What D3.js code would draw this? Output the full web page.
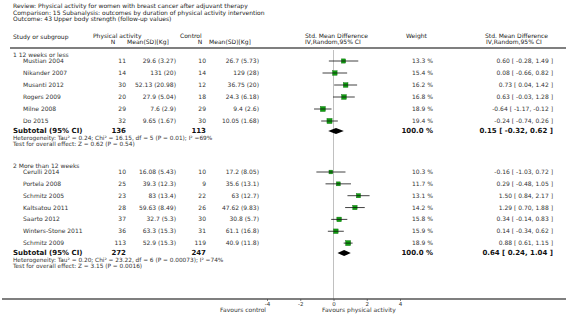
<!DOCTYPE html>
<html lang="en">
<head>
  <meta charset="UTF-8">
  <title>Forest plot</title>
  <style type="text/css">
    body { margin: 0px; background: #fff; }
    text { font-family: "DejaVu Sans", sans-serif; fill: #333; }
    .title { font-size: 6px; fill: #222; }
    .hdr { font-size: 6px; fill: #222; }
    .row { font-size: 6px; }
    .het { font-size: 5.8px; }
    .sub { font-size: 7px; font-weight: bold; fill: #111; }
    .tick text { font-size: 5.5px; fill: #333; }
  </style>
  <script src="https://d3js.org/d3.v7.min.js"></script>
</head>
<body>
  <svg width="566" height="329"></svg>
  <script>
    const titleLines = [
      'Review:  Physical activity for women with breast cancer after adjuvant therapy',
      'Comparison:  15 Subanalysis: outcomes by duration of physical activity intervention',
      'Outcome:  43 Upper body strength (follow-up values)'
    ];

    // group 1: 12 weeks or less
    const names1 = ['Mustian 2004', 'Nikander 2007', 'Musanti 2012', 'Rogers 2009', 'Milne 2008', 'Do 2015'];
    const paN1 = [11, 14, 30, 20, 29, 32];
    const paMean1 = ['29.6 (3.27)', '131 (20)', '52.13 (20.98)', '27.9 (5.04)', '7.6 (2.9)', '9.65 (1.67)'];
    const ctN1 = [10, 14, 12, 18, 29, 30];
    const ctMean1 = ['26.7 (5.73)', '129 (28)', '36.75 (20)', '24.3 (6.18)', '9.4 (2.6)', '10.05 (1.68)'];
    const weight1 = [13.3, 15.4, 16.2, 16.8, 18.9, 19.4];
    const smd1 = [0.60, 0.08, 0.73, 0.63, -0.64, -0.24];
    const lo1 = [-0.28, -0.66, 0.04, -0.03, -1.17, -0.74];
    const hi1 = [1.49, 0.82, 1.42, 1.28, -0.12, 0.26];
    const total1 = { paN: 136, ctN: 113, smd: 0.15, lo: -0.32, hi: 0.62 };
    const het1 = ['Heterogeneity: Tau² = 0.24; Chi² = 16.15, df = 5 (P = 0.01); I² =69%',
                  'Test for overall effect: Z = 0.62 (P = 0.54)'];

    // group 2: more than 12 weeks
    const names2 = ['Cerulli 2014', 'Portela 2008', 'Schmitz 2005', 'Kaltsatou 2011', 'Saarto 2012', 'Winters-Stone 2011', 'Schmitz 2009'];
    const paN2 = [10, 25, 23, 28, 37, 36, 113];
    const paMean2 = ['16.08 (5.43)', '39.3 (12.3)', '83 (13.4)', '59.63 (8.49)', '32.7 (5.3)', '63.3 (15.3)', '52.9 (15.3)'];
    const ctN2 = [10, 9, 22, 26, 30, 31, 119];
    const ctMean2 = ['17.2 (8.05)', '35.6 (13.1)', '63 (12.7)', '47.62 (9.83)', '30.8 (5.7)', '61.1 (16.8)', '40.9 (11.8)'];
    const weight2 = [10.3, 11.7, 13.1, 14.2, 15.8, 15.9, 18.9];
    const smd2 = [-0.16, 0.29, 1.50, 1.29, 0.34, 0.14, 0.88];
    const lo2 = [-1.03, -0.48, 0.84, 0.70, -0.14, -0.34, 0.61];
    const hi2 = [0.72, 1.05, 2.17, 1.88, 0.83, 0.62, 1.15];
    const total2 = { paN: 272, ctN: 247, smd: 0.64, lo: 0.24, hi: 1.04 };
    const het2 = ['Heterogeneity: Tau² = 0.20; Chi² = 23.22, df = 6 (P = 0.00073); I² =74%',
                  'Test for overall effect: Z = 3.15 (P = 0.0016)'];

    const ticks = [-4, -2, 0, 2, 4];

    const groups = [
      { label: '1 12 weeks or less', top: 55, step: 12,
        names: names1, paN: paN1, paMean: paMean1, ctN: ctN1, ctMean: ctMean1,
        weight: weight1, smd: smd1, lo: lo1, hi: hi1, total: total1, het: het1 },
      { label: '2 More than 12 weeks', top: 166, step: 11.85,
        names: names2, paN: paN2, paMean: paMean2, ctN: ctN2, ctMean: ctMean2,
        weight: weight2, smd: smd2, lo: lo2, hi: hi2, total: total2, het: het2 }
    ];

    const svg = d3.select('svg');
    const x = d3.scaleLinear().domain([-4, 4]).range([267, 400]);
    const boxSize = d3.scaleSqrt().domain([0, 20]).range([0, 5.2]);
    const f2 = v => v.toFixed(2);
    const effText = (m, l, h) => `${f2(m)} [ ${f2(l)}, ${f2(h)} ]`;

    const col = { name: 23, paN: 126, paMean: 176, ctN: 206, ctMean: 259, weight: 433, eff: 553 };

    // title block
    svg.selectAll('.title').data(titleLines).enter().append('text')
      .attr('class', 'title')
      .attr('x', 13)
      .attr('y', (d, i) => 8 + i * 6.5)
      .text(d => d);

    // column headers
    const hdr = [
      ['Study or subgroup', 13, 39, 'start'],
      ['Physical activity', 93, 38, 'start'],
      ['N', 113, 44, 'middle'],
      ['Mean(SD)[Kg]', 148, 44, 'middle'],
      ['Control', 180, 38, 'start'],
      ['N', 200, 44, 'middle'],
      ['Mean(SD)[Kg]', 230, 44, 'middle'],
      ['Std. Mean Difference', 305, 38, 'start'],
      ['IV,Random,95% CI', 305, 44, 'start'],
      ['Weight', 406, 38, 'start'],
      ['Std. Mean Difference', 485, 38, 'start'],
      ['IV,Random,95% CI', 486, 44, 'start']
    ];
    svg.selectAll('.hdr').data(hdr).enter().append('text')
      .attr('class', 'hdr')
      .attr('x', d => d[1]).attr('y', d => d[2])
      .attr('text-anchor', d => d[3])
      .text(d => d[0]);

    svg.append('line')
      .attr('x1', 10).attr('x2', 566).attr('y1', 48).attr('y2', 48)
      .attr('stroke', '#555').attr('stroke-width', 1.3);

    // zero line
    svg.append('line')
      .attr('x1', x(0)).attr('x2', x(0)).attr('y1', 50).attr('y2', 299)
      .attr('stroke', '#b0b0b0').attr('stroke-width', 0.8);

    groups.forEach(g => {
      svg.append('text').attr('class', 'row').attr('x', 13).attr('y', g.top + 2).text(g.label);

      const rows = g.names.map((n, i) => ({
        name: n, paN: g.paN[i], paMean: g.paMean[i], ctN: g.ctN[i], ctMean: g.ctMean[i],
        w: g.weight[i], m: g.smd[i], l: g.lo[i], h: g.hi[i], y: g.top + 6 + i * g.step
      }));

      const r = svg.append('g').selectAll('g').data(rows).enter().append('g');

      const txt = (key, xx, anchor) => r.append('text').attr('class', 'row')
        .attr('x', xx).attr('y', d => d.y + 2).attr('text-anchor', anchor).text(key);
      txt(d => d.name, col.name, 'start');
      txt(d => d.paN, col.paN, 'end');
      txt(d => d.paMean, col.paMean, 'end');
      txt(d => d.ctN, col.ctN, 'end');
      txt(d => d.ctMean, col.ctMean, 'end');
      txt(d => d.w.toFixed(1) + ' %', col.weight, 'end');
      txt(d => effText(d.m, d.l, d.h), col.eff, 'end');

      r.append('rect')
        .attr('x', d => x(d.m) - boxSize(d.w) / 2)
        .attr('y', d => d.y - boxSize(d.w) / 2)
        .attr('width', d => boxSize(d.w))
        .attr('height', d => boxSize(d.w))
        .attr('fill', '#11a011')
        .attr('stroke', '#0a6a0a').attr('stroke-width', 0.4);
      r.append('line')
        .attr('x1', d => x(d.l)).attr('x2', d => x(d.h))
        .attr('y1', d => d.y).attr('y2', d => d.y)
        .attr('stroke', '#111').attr('stroke-width', 0.8);

      const last = rows[rows.length - 1].y;
      const sy = last + 10;
      const t = g.total;
      const subText = (s, xx, anchor) => svg.append('text').attr('class', 'sub')
        .attr('x', xx).attr('y', sy + 2.3).attr('text-anchor', anchor).text(s);
      subText('Subtotal (95% CI)', 13, 'start');
      subText(t.paN, col.paN, 'end');
      subText(t.ctN, col.ctN, 'end');
      subText('100.0 %', col.weight, 'end');
      subText(effText(t.smd, t.lo, t.hi), col.eff, 'end');
      svg.append('path')
        .attr('d', `M${x(t.lo)},${sy} L${x(t.smd)},${sy - 3} L${x(t.hi)},${sy} L${x(t.smd)},${sy + 3} Z`)
        .attr('fill', '#000');

      svg.selectAll(null).data(g.het).enter().append('text')
        .attr('class', 'het')
        .attr('x', 13).attr('y', (d, i) => sy + 8.8 + i * 5.8)
        .text(d => d);
    });

    // axis
    svg.append('line')
      .attr('x1', 2).attr('x2', 566).attr('y1', 299).attr('y2', 299)
      .attr('stroke', '#555').attr('stroke-width', 1.3);
    const axisG = svg.append('g').attr('transform', 'translate(0,299)')
      .call(d3.axisBottom(x).tickValues(ticks).tickSize(2).tickPadding(1).tickFormat(d => String(d)));
    axisG.select('.domain').remove();
    axisG.selectAll('.tick line').attr('stroke', '#333').attr('stroke-width', 0.6);

    svg.append('text').attr('class', 'row').attr('x', 266).attr('y', 312)
      .attr('text-anchor', 'end').text('Favours control');
    svg.append('text').attr('class', 'row').attr('x', 322).attr('y', 312)
      .attr('text-anchor', 'start').text('Favours physical activity');
  </script>
</body>
</html>
